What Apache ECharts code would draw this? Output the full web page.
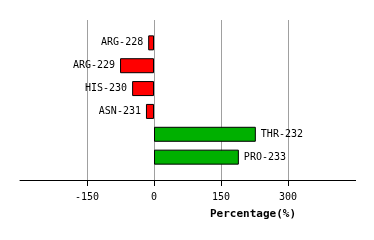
<!DOCTYPE html>
<html><head><meta charset="utf-8">
<script src="https://cdn.jsdelivr.net/npm/echarts@6/dist/echarts.min.js"></script>
<style>html,body{margin:0;padding:0;background:#fff}#c{width:374px;height:240px}</style>
</head><body><div id="c"></div>
<script>
const categories = ['ARG-228','ARG-229','HIS-230','ASN-231','THR-232','PRO-233'];
const values = [-13, -76, -49, -18, 228, 190];
const tickValues = [-150, 0, 150, 300];
const axisTitle = 'Percentage(%)';

const font = '"DejaVu Sans Mono", monospace';
const chart = echarts.init(document.getElementById('c'));
chart.setOption({
  animation: false,
  grid: {left: 20, right: 19, top: 20, bottom: 60},
  xAxis: [{
    type: 'value', min: -300, max: 450, interval: 150,
    axisLine: {show: true, onZero: false, lineStyle: {color: '#000', width: 1}},
    axisTick: {show: false},
    axisLabel: {customValues: tickValues, color: '#000', fontFamily: font, fontSize: 10, margin: 12},
    splitLine: {show: true, showMinLine: false, showMaxLine: false, lineStyle: {color: '#a0a0a0', width: 1}}
  }, {
    type: 'value', min: -300, max: 450, interval: 150, position: 'bottom',
    axisLine: {show: false},
    axisTick: {show: true, length: 6, lineStyle: {color: '#000', width: 1}},
    axisLabel: {show: false},
    splitLine: {show: false}
  }],
  yAxis: {
    type: 'category', inverse: true, boundaryGap: false,
    data: [''].concat(categories).concat(['']),
    axisLine: {show: false}, axisTick: {show: false}, axisLabel: {show: false}, splitLine: {show: false}
  },
  graphic: [
    {type: 'text', left: 210, top: 209, style: {text: axisTitle, font: 'bold 11px ' + font, fill: '#000'}},
    {type: 'rect', z: 100, shape: {x: 16, y: 181, width: 8, height: 8}, style: {fill: '#fff'}},
    {type: 'rect', z: 100, shape: {x: 351, y: 181, width: 8, height: 8}, style: {fill: '#fff'}}
  ],
  series: [{
    type: 'bar', barWidth: 15,
    data: [null].concat(values.map(v => ({
      value: v,
      itemStyle: {color: v < 0 ? '#ff0000' : '#00b000', borderColor: '#000', borderWidth: 1},
      label: {show: true, position: v < 0 ? 'left' : 'right', distance: 5, formatter: '{b}', color: '#000', fontFamily: font, fontSize: 10}
    }))).concat([null])
  }]
});
</script></body></html>
